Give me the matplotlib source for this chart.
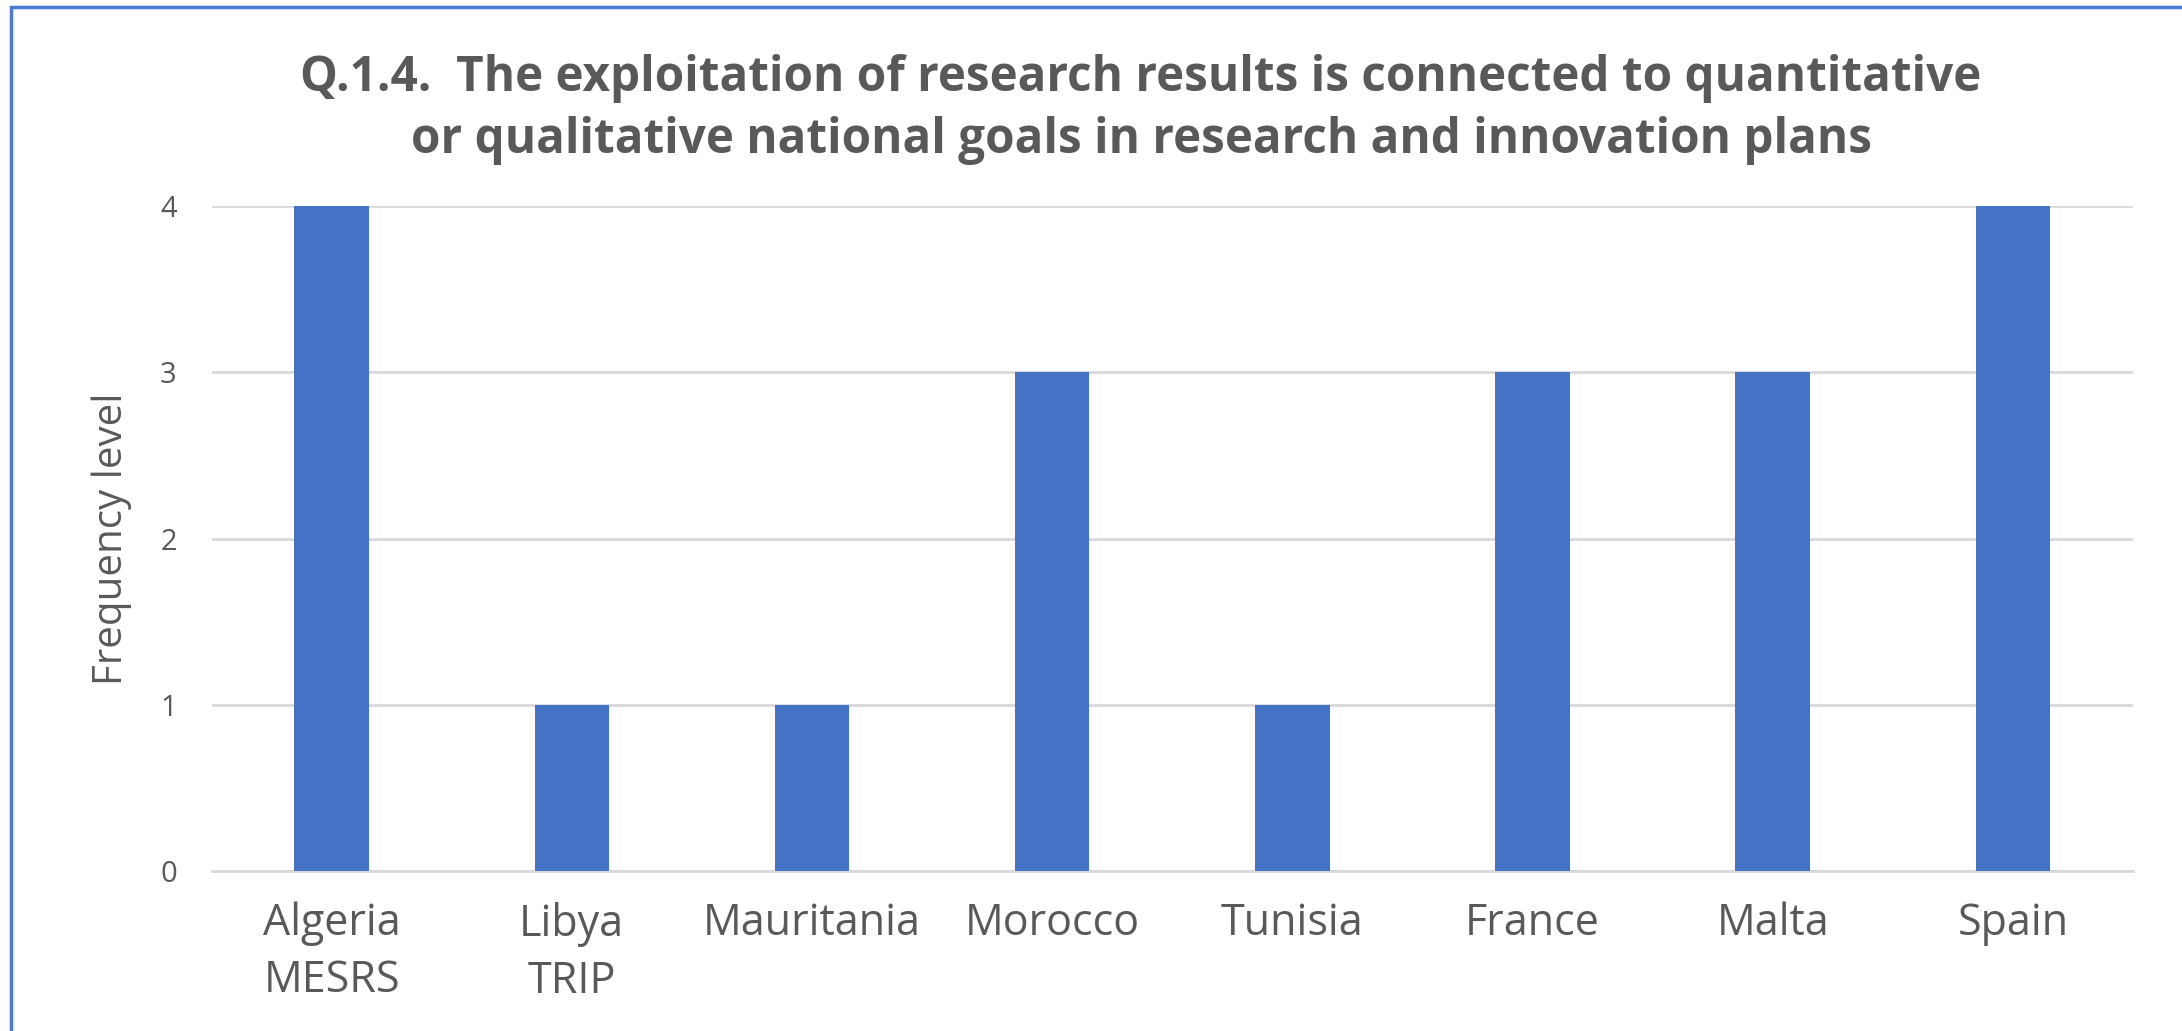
import matplotlib
matplotlib.use("Agg")
import matplotlib.pyplot as plt
from matplotlib.patches import Rectangle

categories = ["Algeria\nMESRS", "Libya\nTRIP", "Mauritania", "Morocco", "Tunisia", "France", "Malta", "Spain"]
values = [4, 1, 1, 3, 1, 3, 3, 4]
yticks = [0, 1, 2, 3, 4]
title = "Q.1.4.  The exploitation of research results is connected to quantitative\nor qualitative national goals in research and innovation plans"
ylabel = "Frequency level"

plt.rcParams['font.family'] = ['Open Sans', 'DejaVu Sans']
W, H = 2182, 1031
fig = plt.figure(figsize=(W/100, H/100), dpi=100)
ax = fig.add_axes([211.5/W, 1-871/H, (2133-211.5)/W, (871-206)/H])

x = range(len(categories))
ax.bar(x, values, width=0.31, color="#4472C4", zorder=3)
ax.set_xlim(-0.5, len(categories)-0.5)
ax.set_ylim(0, 4)
ax.set_yticks(yticks)
ax.set_xticks(list(x))
ax.set_xticklabels(categories, fontsize=31, color="#595959", linespacing=1.38)
ax.tick_params(axis='y', labelsize=21, colors="#595959", length=0, pad=25)
ax.tick_params(axis='x', length=0, pad=22)
ax.grid(axis='y', color="#d9d9d9", linewidth=2, zorder=0)
for s in ['top', 'right', 'left']:
    ax.spines[s].set_visible(False)
ax.spines['bottom'].set_color("#d9d9d9")
ax.spines['bottom'].set_linewidth(2)

fig.text(112/W, 1-538.5/H, ylabel, rotation=90, ha='center', va='center',
         fontsize=29, color="#595959")

fig.text(820*1.3916/W, 1-78.5*1.3916/H, title, ha='center', va='center', fontsize=34.3,
         fontweight='bold', color="#595959", linespacing=1.34)

fig.patches.append(Rectangle((11/W, -0.1), 1.2, 1-7/H+0.1, transform=fig.transFigure,
                             fill=False, edgecolor="#4a7bd0", linewidth=2.5))

fig.savefig("out.png", dpi=100)
